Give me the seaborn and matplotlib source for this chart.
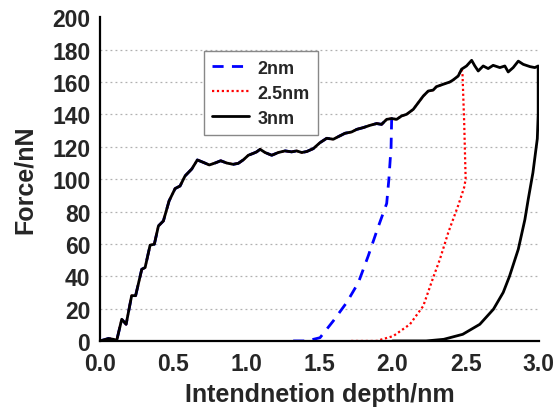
import numpy as np
import pandas as pd
import matplotlib
matplotlib.use("Agg")
import matplotlib.pyplot as plt
import seaborn as sns

# ---- data ----
load_depth = [0.0, 0.057, 0.091, 0.114, 0.148, 0.178, 0.216, 0.243, 0.285, 0.308,
              0.342, 0.371, 0.399, 0.433, 0.472, 0.513, 0.547, 0.581, 0.627, 0.665,
              0.706, 0.747, 0.786, 0.825, 0.866, 0.91, 0.945, 0.98, 1.014, 1.048,
              1.071, 1.094, 1.128, 1.174, 1.219, 1.265, 1.31, 1.344, 1.379, 1.413,
              1.458, 1.504, 1.55, 1.595, 1.629, 1.675, 1.72, 1.755, 1.80, 1.846,
              1.891, 1.925, 1.96, 1.994, 2.028, 2.062, 2.096, 2.142, 2.176, 2.21,
              2.244, 2.278, 2.30, 2.347, 2.392, 2.415, 2.449, 2.472, 2.506, 2.541,
              2.563, 2.586, 2.62, 2.654, 2.688, 2.734, 2.768, 2.791, 2.825, 2.86,
              2.894, 2.94, 2.973, 2.996]
load_force = [0.0, 1.5, 1.0, 0.4, 13.4, 10.3, 28.0, 28.0, 44.3, 45.4,
              59.2, 59.8, 71.1, 74.2, 86.6, 94.2, 95.8, 102.0, 106.3, 111.9,
              110.4, 108.8, 110.0, 111.4, 110.0, 109.2, 109.8, 112.0, 114.8, 116.0,
              116.9, 118.5, 116.5, 114.8, 116.5, 117.5, 116.9, 117.5, 116.5, 117.1,
              118.9, 122.6, 125.3, 124.7, 126.3, 128.4, 129.2, 130.8, 131.9, 133.3,
              134.4, 133.9, 137.0, 137.5, 137.0, 139.1, 140.1, 143.2, 147.3, 151.4,
              154.5, 155.1, 157.2, 158.7, 160.1, 161.4, 163.8, 168.0, 170.0, 173.5,
              170.0, 166.9, 170.0, 168.4, 170.4, 169.0, 170.0, 166.3, 169.0, 173.0,
              171.0, 169.6, 169.0, 170.0]

unload_depth_2nm = [1.994, 1.99, 1.975, 1.96, 1.90, 1.834, 1.766, 1.686, 1.595, 1.504, 1.413, 1.32]
unload_force_2nm = [137.5, 120.0, 100.0, 85.0, 70.0, 52.6, 36.0, 23.7, 12.4, 2.0, 0.0, 0.0]

unload_depth_25nm = [2.478, 2.49, 2.50, 2.49, 2.45, 2.381, 2.324, 2.278, 2.21, 2.119, 2.005, 1.89, 1.70]
unload_force_25nm = [166.0, 135.0, 100.0, 95.0, 84.0, 67.0, 50.5, 39.2, 21.6, 10.3, 3.0, 0.0, 0.0]

unload_depth_3nm = [2.996, 2.996, 2.99, 2.96, 2.928, 2.905, 2.86, 2.80, 2.757, 2.69,
                    2.597, 2.48, 2.35, 2.23, 2.0]
unload_force_3nm = [170.0, 140.0, 125.0, 104.0, 87.6, 75.0, 56.7, 40.0, 30.0, 19.6,
                    10.3, 4.1, 1.0, 0.0, 0.0]

series_labels = ["2nm", "2.5nm", "3nm"]
max_depths = [1.994, 2.472, 2.996]
x_ticks = [0.0, 0.5, 1.0, 1.5, 2.0, 2.5, 3.0]
y_ticks = [0, 20, 40, 60, 80, 100, 120, 140, 160, 180, 200]


def build(max_d, ud, uf):
    d = [x for x in load_depth if x <= max_d + 1e-9]
    f = load_force[:len(d)]
    return pd.DataFrame({"depth": d + ud, "force": f + uf})


sns.set_style("white")
plt.rcParams["font.family"] = ["Liberation Sans", "DejaVu Sans"]
plt.rcParams["font.weight"] = "bold"

fig = plt.figure(figsize=(5.56, 4.10), dpi=100)
ax = fig.add_axes([0.18, 0.166, 0.789, 0.789])

styles = [dict(color="#0000FF", linewidth=2.0, dashes=(4, 3)),
          dict(color="#FF0000", linewidth=1.6, dashes=(1, 1.2)),
          dict(color="black", linewidth=2.0, linestyle="-")]
unloads = [(unload_depth_2nm, unload_force_2nm),
           (unload_depth_25nm, unload_force_25nm),
           (unload_depth_3nm, unload_force_3nm)]

for lab, md, (ud, uf), st in zip(series_labels, max_depths, unloads, styles):
    df = build(md, ud, uf)
    sns.lineplot(data=df, x="depth", y="force", sort=False, estimator=None,
                 ax=ax, label=lab, **st)

ax.set_xlim(0, 3.0)
ax.set_ylim(0, 200)
ax.set_xticks(x_ticks)
ax.set_xticklabels([f"{t:.1f}" for t in x_ticks])
ax.set_yticks(y_ticks)
ax.tick_params(axis="both", length=0, labelsize=16.5)
ax.tick_params(axis="x", pad=8)
ax.tick_params(axis="y", pad=7)
for lbl in ax.get_xticklabels() + ax.get_yticklabels():
    lbl.set_fontweight("bold")

ax.yaxis.grid(True, color="#b0b0b0", linestyle=(0, (1.5, 2.5)), linewidth=0.9)
ax.xaxis.grid(False)
gl = ax.yaxis.get_gridlines()
gl[-1].set_visible(False)
ax.set_axisbelow(True)

for s in ["top", "right"]:
    ax.spines[s].set_visible(False)
for s in ["left", "bottom"]:
    ax.spines[s].set_color("black")
    ax.spines[s].set_linewidth(1.6)

ax.set_xlabel("Intendnetion depth/nm", fontsize=18, fontweight="bold", labelpad=5)
ax.set_ylabel("Force/nN", fontsize=18, fontweight="bold", labelpad=11)

leg = ax.legend(loc="upper left", bbox_to_anchor=(0.2376, 0.895), borderaxespad=0,
                fancybox=False, frameon=True, edgecolor="#888888", framealpha=1,
                prop={"size": 13, "weight": "bold"}, handlelength=2.0,
                handletextpad=0.5, labelspacing=0.45, borderpad=0.45)
leg.get_frame().set_linewidth(1.0)

fig.savefig("out.png", dpi=100)
